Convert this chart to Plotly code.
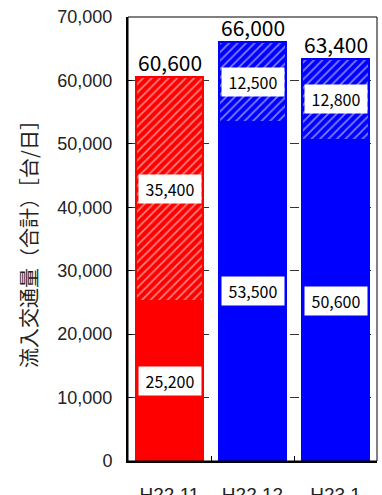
import plotly.graph_objects as go

categories = ["H22.11", "H22.12", "H23.1"]
base_values = [25200, 53500, 50600]
top_values = [35400, 12500, 12800]
totals = [60600, 66000, 63400]
bar_colors = ["#ff0000", "#0000ff", "#0000ff"]
y_ticks = [0, 10000, 20000, 30000, 40000, 50000, 60000, 70000]
y_title = "流入交通量（合計）［台/日］"

num_font = "Noto Sans CJK JP"

fig = go.Figure()
fig.add_trace(go.Bar(
    x=categories, y=base_values,
    marker=dict(color=bar_colors, line=dict(color=bar_colors, width=2)),
    hoverinfo="skip",
))
fig.add_trace(go.Bar(
    x=categories, y=top_values,
    marker=dict(
        color=bar_colors,
        line=dict(color=bar_colors, width=2),
        pattern=dict(shape="/", fillmode="overlay",
                     fgcolor="rgba(255,255,255,0.7)", size=6, solidity=0.3),
    ),
    hoverinfo="skip",
))

annotations = []
for c, b, t, tot in zip(categories, base_values, top_values, totals):
    annotations.append(dict(x=c, y=b / 2, text=f"{b:,}", showarrow=False,
                            bgcolor="white", font=dict(family=num_font, size=16, color="black"),
                            borderpad=2, width=58))
    annotations.append(dict(x=c, y=b + t / 2, text=f"{t:,}", showarrow=False,
                            bgcolor="white", font=dict(family=num_font, size=16, color="black"),
                            borderpad=2, width=58))
    annotations.append(dict(x=c, y=tot, text=f"{tot:,}", showarrow=False, yanchor="bottom",
                            font=dict(family=num_font, size=21, color="black"), yshift=-2))

fig.update_layout(
    width=382, height=495,
    margin=dict(l=128, r=5, t=17, b=34),
    barmode="stack", bargap=0.19,
    showlegend=False,
    plot_bgcolor="white", paper_bgcolor="white",
    annotations=annotations,
    shapes=[dict(type="rect", xref="x domain", yref="y domain", x0=0, x1=1, y0=0, y1=1,
                 line=dict(color="black", width=1), layer="above")],
)
fig.update_yaxes(
    range=[0, 70000], tickvals=y_ticks, tickformat=",d",
    showgrid=True, gridcolor="#333333", griddash="dash", gridwidth=1,
    showline=True, linecolor="black", linewidth=2,
    ticks="inside", ticklen=4, tickcolor="black",
    tickfont=dict(family="Liberation Sans", size=18, color="#222222"),
    ticklabelstandoff=10,
    title=dict(text=y_title, font=dict(family="Noto Sans CJK JP", size=20, color="#222222"), standoff=14),
    zeroline=False, automargin=False,
)
fig.update_xaxes(
    showline=True, linecolor="black", linewidth=2,
    tickson="boundaries", ticks="inside", ticklen=5, tickcolor="black",
    tickfont=dict(family="Liberation Sans", size=19, color="#222222"),
    ticklabelstandoff=15, automargin=False,
)
fig.write_html("out.html")
